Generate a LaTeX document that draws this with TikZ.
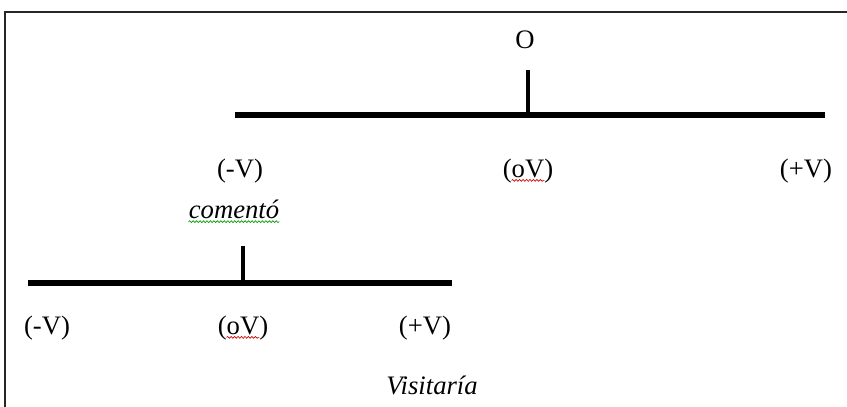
\documentclass[tikz,border=0pt]{standalone}
\usepackage{fontspec}
\setmainfont{Liberation Serif}
\usetikzlibrary{positioning,decorations.pathmorphing}
\tikzset{
  bar/.style={line width=3.8pt},
  tick/.style={line width=2.6pt},
  frame/.style={draw=black!85,line width=0.9pt},
  lbl/.style={inner sep=0pt,font=\fontsize{20}{24}\selectfont},
  word/.style={inner sep=0pt,font=\fontsize{20}{24}\selectfont\itshape},
  squig/.style={decorate,decoration={snake,amplitude=0.7pt,segment length=2.6pt},line width=0.5pt}
}

\begin{document}
\begin{tikzpicture}[x=0.75pt,y=-0.75pt]
\useasboundingbox (0,0) rectangle (847,407);
% frame, only its top and left edges show
\draw[frame] (847,12) -- (5,12) -- (5,407);

% upper scale
\coordinate (upL) at (235,115);
\coordinate (upR) at (825,115);
\coordinate (upM) at (528,115);
\coordinate (upT) at (528,70);
\draw[bar] (upL) -- (upR);
\draw[tick] (upM) -- (upT);
\node[lbl] (O) at (525,40) {O};
\node[lbl] (upneg) at (240,171) {(-V)};
\node[lbl] (upzero) at (528,171) {(oV)};
\node[lbl] (uppos) at (806,171) {(+V)};
\node[word] (coment) at (234,209) {comentó};

% lower scale
\coordinate (loL) at (28,283);
\coordinate (loR) at (452,283);
\coordinate (loM) at (243,283);
\coordinate (loT) at (243,246);
\draw[bar] (loL) -- (loR);
\draw[tick] (loM) -- (loT);
\node[lbl] (loneg) at (47,328) {(-V)};
\node[lbl] (lozero) at (243,328) {(oV)};
\node[lbl] (lopos) at (425,328) {(+V)};
\node[word] (visit) at (432,385) {Visitaría};

% spelling marks
\draw[squig,red!80!black] ([shift={(9,-3)}]upzero.south west) -- ([shift={(-9,-3)}]upzero.south east);
\draw[squig,red!80!black] ([shift={(9,-3)}]lozero.south west) -- ([shift={(-9,-3)}]lozero.south east);
\draw[squig,green!60!black] ([shift={(0,3)}]coment.south west) -- ([shift={(0,3)}]coment.south east);
\end{tikzpicture}
\end{document}
